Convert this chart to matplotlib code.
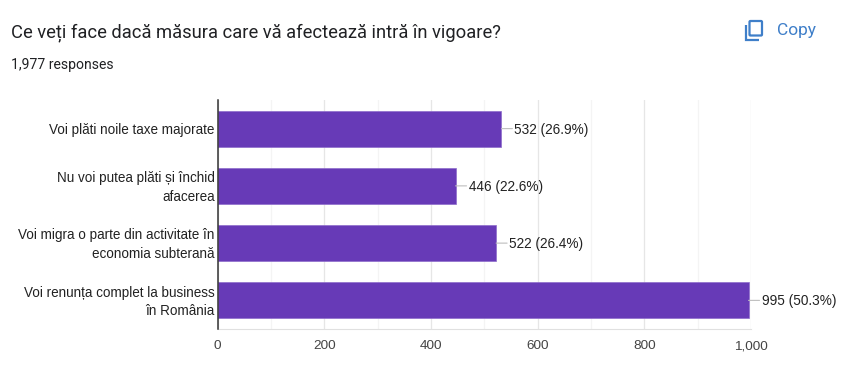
import matplotlib
matplotlib.use("Agg")
import matplotlib.pyplot as plt
from matplotlib.patches import FancyBboxPatch, Polygon
from matplotlib.transforms import ScaledTranslation

# ------------------------------
# Data
# ------------------------------
categories = [
    "Voi plăti noile taxe majorate",
    "Nu voi putea plăti și închid\nafacerea",
    "Voi migra o parte din activitate în\neconomia subterană",
    "Voi renunța complet la business\nîn România",
]
counts = [532, 446, 522, 995]
percents = ["26.9%", "22.6%", "26.4%", "50.3%"]
major_ticks = [0, 200, 400, 600, 800, 1000]
tick_labels = ["0", "200", "400", "600", "800", "1,000"]
minor_ticks = [100, 300, 500, 700, 900]

W, H = 848, 388
PURPLE = "#673AB7"
BLUE = "#3F7FC9"

fig = plt.figure(figsize=(W / 100, H / 100), dpi=100, facecolor="white")

# ------------------------------
# Chart
# ------------------------------
left, right, top, bottom = 217.5, 751.2, 100, 329
ax = fig.add_axes([left / W, 1 - bottom / H, (right - left) / W, (bottom - top) / H])
y_pos = range(len(categories))
ax.barh(y_pos, counts, height=0.632, color=PURPLE, edgecolor="#8E6CCB", linewidth=0.5, zorder=3)
ax.set_xlim(0, 1000)
ax.set_ylim(len(categories) - 0.5, -0.5)

ax.set_xticks(major_ticks)
ax.set_xticklabels(tick_labels, family="Liberation Sans", fontsize=9.7, color="#444444")
ax.set_xticks(minor_ticks, minor=True)
ax.set_yticks(list(y_pos))
ax.set_yticklabels(categories, family="Liberation Sans", fontsize=9.75, color="#222222",
                   linespacing=1.4, ha="right", va="center")
ax.tick_params(axis="both", which="both", length=0)
ax.tick_params(axis="x", pad=8)
ax.tick_params(axis="y", pad=2)

# nudge the category labels down a little
for label in ax.get_yticklabels():
    label.set_transform(label.get_transform() + ScaledTranslation(0, -1.5 / 100, fig.dpi_scale_trans))

ax.grid(axis="x", which="major", color="#E6E6E6", linewidth=0.9, zorder=0)
ax.grid(axis="x", which="minor", color="#F4F4F4", linewidth=0.9, zorder=0)
for name in ["top", "right"]:
    ax.spines[name].set_visible(False)
ax.spines["bottom"].set_color("#E0E0E0")
ax.spines["left"].set_color("#333333")
ax.spines["left"].set_linewidth(1.1)
ax.spines["left"].set_zorder(5)

# value labels with short leader lines
for i, (c, p) in enumerate(zip(counts, percents)):
    ax.annotate("", xy=(c, i), xytext=(11, 0), textcoords="offset pixels",
                arrowprops=dict(arrowstyle="-", color="#BDBDBD", linewidth=0.8,
                                shrinkA=0, shrinkB=0), annotation_clip=False)
    ax.annotate(f"{c} ({p})", xy=(c, i), xytext=(13, -1), textcoords="offset pixels",
                family="Liberation Sans", fontsize=9.85, color="#222222",
                va="center", ha="left", annotation_clip=False)

# ------------------------------
# Header
# ------------------------------
fig.text(11 / W, 1 - 33 / H, "Ce veți face dacă măsura care vă afectează intră în vigoare?",
         family="Roboto", fontsize=13.25, color="#202124", va="center", ha="left")
fig.text(11 / W, 1 - 65 / H, "1,977 responses",
         family="Roboto", fontsize=10.1, color="#202124", va="center", ha="left")
fig.text(777 / W, 1 - 31 / H, "Copy",
         family="Roboto", fontsize=12.5, color=BLUE, va="center", ha="left")

# copy icon, drawn in pixel coordinates
overlay = fig.add_axes([0, 0, 1, 1], facecolor="none")
overlay.set_xlim(0, W)
overlay.set_ylim(H, 0)
overlay.axis("off")
overlay.add_patch(FancyBboxPatch((749.5, 21), 12.5, 14.5, boxstyle="round,pad=0,rounding_size=1",
                                 fill=False, edgecolor=BLUE, linewidth=1.6))
overlay.add_patch(Polygon([(745.5, 25), (745.5, 40), (759, 40)], closed=False,
                          fill=False, edgecolor=BLUE, linewidth=1.6))

fig.savefig("out.png", dpi=100, facecolor="white")
